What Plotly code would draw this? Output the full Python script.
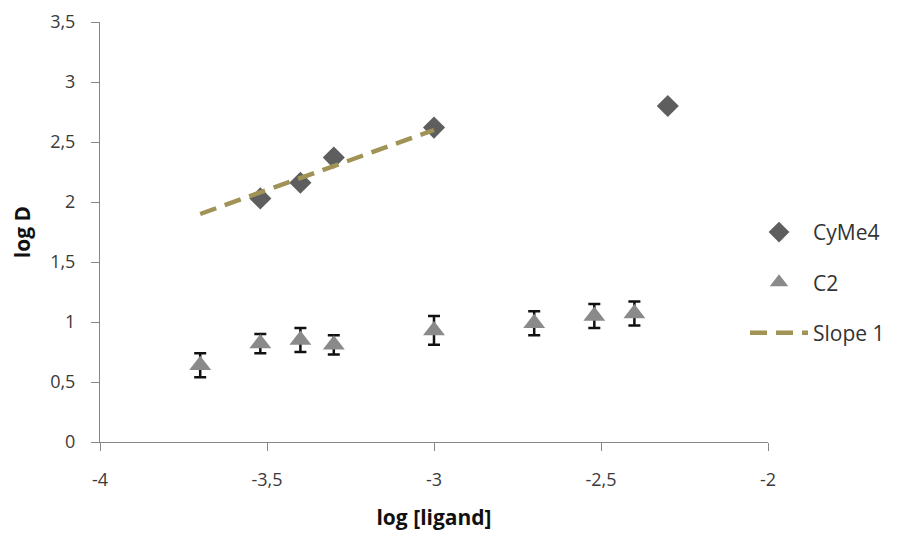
import plotly.graph_objects as go

# Data
cyme4_x = [-3.52, -3.40, -3.30, -3.00, -2.30]
cyme4_y = [2.03, 2.16, 2.37, 2.62, 2.80]

c2_x = [-3.70, -3.52, -3.40, -3.30, -3.00, -2.70, -2.52, -2.40]
c2_y = [0.64, 0.82, 0.85, 0.81, 0.93, 0.99, 1.05, 1.07]
c2_err = [0.10, 0.08, 0.10, 0.08, 0.12, 0.10, 0.10, 0.10]

slope_x = [-3.70, -3.00]
slope_y = [1.90, 2.60]

x_tickvals = [-4, -3.5, -3, -2.5, -2]
x_ticktext = ["-4", "-3,5", "-3", "-2,5", "-2"]
y_tickvals = [0, 0.5, 1, 1.5, 2, 2.5, 3, 3.5]
y_ticktext = ["0", "0,5", "1", "1,5", "2", "2,5", "3", "3,5"]

FONT = "Open Sans"

fig = go.Figure()

fig.add_trace(go.Scatter(
    x=cyme4_x, y=cyme4_y, mode="markers", name="CyMe4",
    legendgroup="a",
    marker=dict(symbol="diamond", size=17, color="#5e5e5e"),
))
fig.add_trace(go.Scatter(
    x=c2_x, y=c2_y, mode="markers", name="C2",
    legendgroup="b",
    marker=dict(symbol="triangle-up", size=19, color="#8a8a8a"),
    error_y=dict(type="data", array=c2_err, visible=True,
                 color="#111111", thickness=2.5, width=6),
))
fig.add_trace(go.Scatter(
    x=slope_x, y=slope_y, mode="lines", name="Slope 1",
    legendgroup="c",
    line=dict(color="#a09355", width=4.5, dash="17px,9px"),
))

axis_common = dict(
    showline=True, linecolor="#868686", linewidth=1,
    ticks="outside", ticklen=8, tickcolor="#868686", tickwidth=1,
    showgrid=False, zeroline=False, ticklabeloverflow="allow",
    automargin=False,
    tickfont=dict(family=FONT, size=18, color="#3a3a3a"),
)

fig.update_layout(
    width=903, height=534,
    paper_bgcolor="white", plot_bgcolor="white",
    margin=dict(l=92, r=143, t=14, b=100),
    font=dict(family=FONT, size=18, color="#222222"),
    xaxis=dict(range=[-4, -2], tickvals=x_tickvals, ticktext=x_ticktext,
               ticklabelstandoff=13,
               title=dict(text="<b>log [ligand]</b>", standoff=20,
                          font=dict(family=FONT, size=21, color="#111111")),
               **axis_common),
    yaxis=dict(range=[0, 3.5], tickvals=y_tickvals, ticktext=y_ticktext,
               ticklabelstandoff=12,
               title=dict(text="<b>log D</b>", standoff=20,
                          font=dict(family=FONT, size=21, color="#111111")),
               **axis_common),
    legend=dict(x=0.9656, xanchor="left", y=0.38, yanchor="middle",
                traceorder="grouped", tracegroupgap=20, itemwidth=58,
                font=dict(family=FONT, size=21, color="#333333"),
                bgcolor="rgba(0,0,0,0)"),
    showlegend=True,
)

fig.write_html("out.html")
